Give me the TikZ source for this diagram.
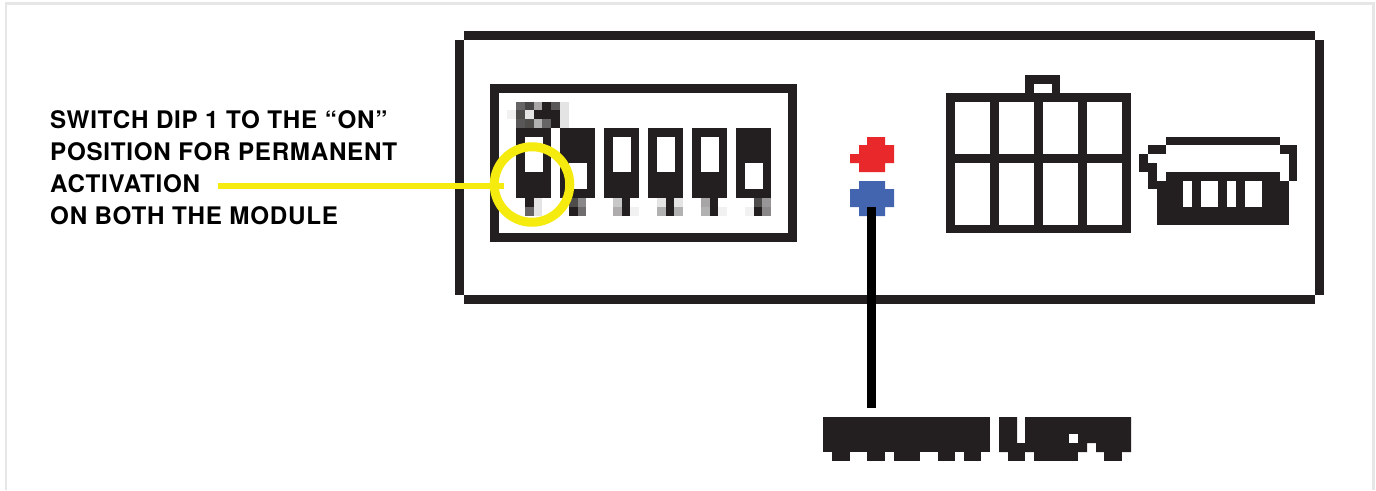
\documentclass[tikz,border=0pt]{standalone}
\usepackage{fontspec}
\setmainfont[LetterSpace=3]{TeX Gyre Heros}
\usetikzlibrary{positioning}
\definecolor{inkdark}{HTML}{231F20}
\definecolor{ringyellow}{HTML}{F6EB0F}
\definecolor{ledred}{HTML}{E8282B}
\definecolor{ledblue}{HTML}{4364AE}
\definecolor{pagegray}{HTML}{E6E6E6}

\begin{document}
\begin{tikzpicture}[
    x=1pt, y=-1pt,
    block/.style={fill=inkdark, draw=none},
    hole/.style={fill=white, draw=none},
    notelabel/.style={anchor=base west, align=left, inner sep=0pt, font=\fontsize{24.2}{32}\selectfont\bfseries},
    ringmark/.style={circle, draw=ringyellow, line width=9pt, minimum size=75.5pt, inner sep=0pt, outer sep=0pt},
    yellowline/.style={draw=ringyellow, line width=6pt},
    blackline/.style={draw=black, line width=9pt}
]
\useasboundingbox (0,0) rectangle (1376,490);

% Page outline
\draw[pagegray, line width=2.7pt] (6,490) -- (6,3.3) -- (1373.5,3.3) -- (1373.5,490);

% Housing
\fill[block] (464,31) rectangle (1315,40);
\fill[block] (464,295) rectangle (1315,304);
\fill[block] (455,40) rectangle (464,295);
\fill[block] (1315,40) rectangle (1324,295);

% DIP block
\fill[block] (490,84) rectangle (797,242);
\fill[hole] (499,93) rectangle (788,233);
\foreach \sx/\wy/\wh in {516/137/35, 560/163/26, 604/137/35, 648/137/35, 692/137/35, 736/163/26} {
    \fill[block] (\sx,128) rectangle ++(35,70);
    \fill[hole] (\sx+9,\wy) rectangle ++(18,\wh);
}

% Blurred pixels of the DIP block, column/row/grey level
\foreach \col/\row/\lev in {
    0/-3/69, 1/-3/83, 2/-3/40, 3/-3/100, 4/-3/75, 5/-3/12,
    -1/-2/6, 0/-2/80, 1/-2/12, 2/-2/100, 3/-2/100, 4/-2/100, 5/-2/12,
    0/-1/75, 1/-1/80, 2/-1/35, 3/-1/69, 4/-1/100, 5/-1/12,
    1/8/100, 2/8/12, 1/9/69, 2/9/12,
    6/8/80, 7/8/53, 6/9/100, 7/9/65,
    11/8/25, 12/8/100, 11/9/37, 12/9/100, 13/9/6,
    16/8/12, 17/8/100, 18/8/12, 16/9/35, 17/9/100, 18/9/35,
    21/8/40, 22/8/100, 21/9/35, 22/9/100, 23/9/6,
    27/8/80, 28/8/47, 26/9/6, 27/9/100, 28/9/53} {
    \fill[inkdark!\lev!white] (516+8.8*\col,128+8.8*\row) rectangle ++(8.8,8.8);
}

% LEDs
\fill[ledred] (867,137) -- (885,137) -- (885,145) -- (894,145) -- (894,163) -- (885,163) -- (885,172)
    -- (859,172) -- (859,163) -- (850,163) -- (850,154) -- (859,154) -- (859,145) -- (867,145) -- cycle;
\fill[ledblue] (859,181) -- (885,181) -- (885,189) -- (894,189) -- (894,207) -- (885,207) -- (885,216)
    -- (859,216) -- (859,207) -- (850,207) -- (850,189) -- (859,189) -- cycle;

% Connector block
\fill[block] (946,93) rectangle (1131,233);
\fill[block] (1025,75) rectangle (1060,93);
\fill[hole] (1034,84) rectangle (1052,93);
\foreach \cx in {955,999,1043,1087} {
    \fill[hole] (\cx,102) rectangle ++(35,52);
    \fill[hole] (\cx,163) rectangle ++(35,61.5);
}

% Plug
\fill[block] (1166,137) rectangle (1280,145);
\fill[block] (1148,145) rectangle (1166,154);
\fill[block] (1139,154) rectangle (1148,172);
\fill[block] (1139,163) rectangle (1157,172);
\fill[block] (1148,172) rectangle (1157,189);
\fill[block] (1280,145) rectangle (1297,154);
\fill[block] (1289,154) rectangle (1297,181);
\fill[block] (1166,172) rectangle (1280,181);
\fill[block] (1157,181) rectangle (1289,224.7);
\foreach \px/\pw in {1183/9, 1201/17, 1227/9, 1245/17} {
    \fill[hole] (\px,181) rectangle ++(\pw,26);
}

% Bottom pixel caption
\fill[block] (823,417) rectangle (990,452);
\foreach \tx/\tw in {832/18, 867/18, 894/26, 938/17, 964/17} {
    \fill[block] (\tx,452) rectangle ++(\tw,9);
}
\fill[block] (999,417) -- (1017,417) -- (1017,443) -- (1025,443) -- (1025,417) -- (1131,417) -- (1131,452)
    -- (1096,452) -- (1096,443) -- (1087,443) -- (1087,452) -- (999,452) -- cycle;
\fill[hole] (1069,434) rectangle ++(9,9);
\foreach \tx/\tw in {1008/17, 1034/44, 1104/18} {
    \fill[block] (\tx,452) rectangle ++(\tw,9);
}

% Label and callouts
\node[notelabel] (dipnote) at (50,224.2) {SWITCH DIP 1 TO THE “ON”\\POSITION FOR PERMANENT\\ACTIVATION\\ON BOTH THE MODULE};
\node[ringmark] (dipring) at (532,184.5) {};
\coordinate (notetail) at (218,186);
\coordinate (ledfoot) at (871.5,207);
\coordinate (captiontop) at (871.5,408);
\draw[yellowline] (notetail) -- ([xshift=10pt]dipring.west |- notetail);
\draw[blackline] (ledfoot) -- (captiontop);

\end{tikzpicture}
\end{document}
